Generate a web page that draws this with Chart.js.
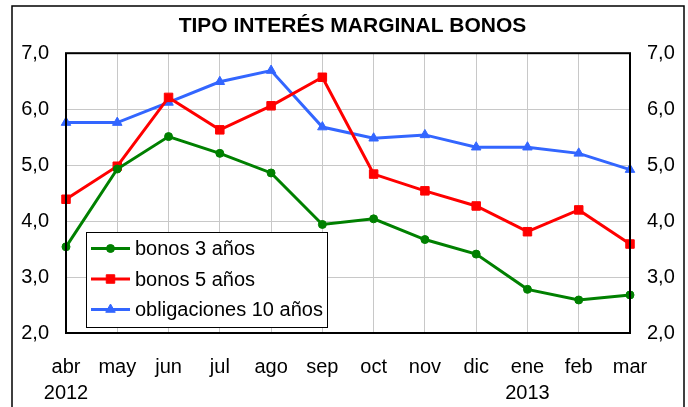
<!DOCTYPE html>
<html>
<head>
<meta charset="utf-8">
<script src="https://cdn.jsdelivr.net/npm/chart.js@4"></script>
<style>
  body { margin: 0; background: #fff; }
  #wrap { width: 688px; height: 407px; position: relative; }
</style>
</head>
<body>
<div id="wrap"><canvas id="tipoChart"></canvas></div>
<script>
// Data
const months = ['abr', 'may', 'jun', 'jul', 'ago', 'sep', 'oct', 'nov', 'dic', 'ene', 'feb', 'mar'];
const yearLabels = { abr: '2012', ene: '2013' };
const bonos3 = [3.54, 4.93, 5.51, 5.21, 4.86, 3.94, 4.04, 3.67, 3.41, 2.78, 2.59, 2.68];
const bonos5 = [4.39, 4.98, 6.21, 5.63, 6.06, 6.57, 4.84, 4.54, 4.27, 3.81, 4.20, 3.59];
const oblig10 = [5.76, 5.76, 6.12, 6.49, 6.69, 5.68, 5.48, 5.54, 5.32, 5.32, 5.21, 4.92];
const yTicks = [2, 3, 4, 5, 6, 7];

const labels = months.map(m => yearLabels[m] ? [m, yearLabels[m]] : m);
const fmt = v => v.toFixed(1).replace('.', ',');

Chart.defaults.font.family = "'Liberation Sans', Arial, sans-serif";
Chart.defaults.color = '#000';

// frame round the whole chart and the plot area
const framePlugin = {
  id: 'frame',
  beforeDraw(chart) {
    const ctx = chart.ctx;
    ctx.save();
    ctx.strokeStyle = '#000';
    ctx.lineWidth = 1.5;
    ctx.strokeRect(12, 6, 672, 420);
    ctx.restore();
  },
  afterDatasetsDraw(chart) {
    const a = chart.chartArea;
    const ctx = chart.ctx;
    ctx.save();
    ctx.strokeStyle = '#000';
    ctx.lineWidth = 2;
    ctx.strokeRect(a.left, a.top, a.right - a.left, a.bottom - a.top);
    ctx.restore();
  }
};

// legend box inside the plot
const boxLegend = {
  id: 'boxLegend',
  afterDraw(chart) {
    const ctx = chart.ctx;
    const x = 86, y = 232, w = 241, h = 95;
    ctx.save();
    ctx.fillStyle = '#fff';
    ctx.fillRect(x, y, w, h);
    ctx.strokeStyle = '#000';
    ctx.lineWidth = 1;
    ctx.strokeRect(x + 0.5, y + 0.5, w, h);
    ctx.font = "20px 'Liberation Sans', Arial, sans-serif";
    ctx.textBaseline = 'middle';
    chart.data.datasets.forEach((ds, i) => {
      const cy = y + 16.5 + i * 30.5;
      ctx.strokeStyle = ds.borderColor;
      ctx.lineWidth = 3;
      ctx.beginPath();
      ctx.moveTo(x + 5, cy);
      ctx.lineTo(x + 44, cy);
      ctx.stroke();
      ctx.fillStyle = ds.borderColor;
      ctx.strokeStyle = ds.borderColor;
      ctx.lineWidth = 1;
      Chart.helpers.drawPoint(ctx, {
        pointStyle: ds.pointStyle,
        radius: ds.pointRadius,
        rotation: 0,
        borderWidth: 1
      }, x + 24.5, cy);
      ctx.fillStyle = '#000';
      ctx.fillText(ds.label, x + 49, cy + 1);
    });
    ctx.restore();
  }
};

new Chart(document.getElementById('tipoChart'), {
  type: 'line',
  data: {
    labels: labels,
    datasets: [{
        label: 'bonos 3 años',
        data: bonos3,
        borderColor: '#008000',
        backgroundColor: '#008000',
        borderWidth: 3,
        pointStyle: 'circle',
        pointRadius: 4,
        pointBorderWidth: 1
      },
      {
        label: 'bonos 5 años',
        data: bonos5,
        borderColor: '#FF0000',
        backgroundColor: '#FF0000',
        borderWidth: 3,
        pointStyle: 'rect',
        pointRadius: 6,
        pointBorderWidth: 1
      },
      {
        label: 'obligaciones 10 años',
        data: oblig10,
        borderColor: '#3366FF',
        backgroundColor: '#3366FF',
        borderWidth: 3,
        pointStyle: 'triangle',
        pointRadius: 5.5,
        pointBorderWidth: 1
      }
    ]
  },
  options: {
    responsive: true,
    maintainAspectRatio: false,
    animation: false,
    layout: { padding: { left: 17 } },
    plugins: {
      legend: { display: false },
      tooltip: { enabled: false },
      title: {
        display: true,
        text: 'TIPO INTERÉS MARGINAL BONOS',
        font: { size: 21, weight: 'bold', lineHeight: 1.2 },
        color: '#000',
        padding: { top: 14, bottom: 14 }
      }
    },
    scales: {
      x: {
        offset: false,
        grid: { color: '#c8c8c8', lineWidth: 1, drawTicks: false, offset: false },
        border: { display: false },
        ticks: {
          font: { size: 20, lineHeight: 1.3 },
          padding: 21,
          maxRotation: 0,
          autoSkip: false
        },
        afterFit(scale) { scale.height = 74; }
      },
      y: {
        position: 'left',
        min: 2,
        max: 7,
        afterBuildTicks(scale) { scale.ticks = yTicks.map(v => ({ value: v })); },
        grid: { color: '#c8c8c8', lineWidth: 1, drawTicks: false },
        border: { display: false },
        ticks: { font: { size: 20 }, padding: 17, callback: v => fmt(v) },
        afterFit(scale) { scale.width = 49; }
      },
      y2: {
        position: 'right',
        min: 2,
        max: 7,
        afterBuildTicks(scale) { scale.ticks = yTicks.map(v => ({ value: v })); },
        grid: { display: false, drawTicks: false },
        border: { display: false },
        ticks: { font: { size: 20 }, padding: 17, callback: v => fmt(v) },
        afterFit(scale) { scale.width = 58; }
      }
    }
  },
  plugins: [framePlugin, boxLegend]
});
</script>
</body>
</html>
